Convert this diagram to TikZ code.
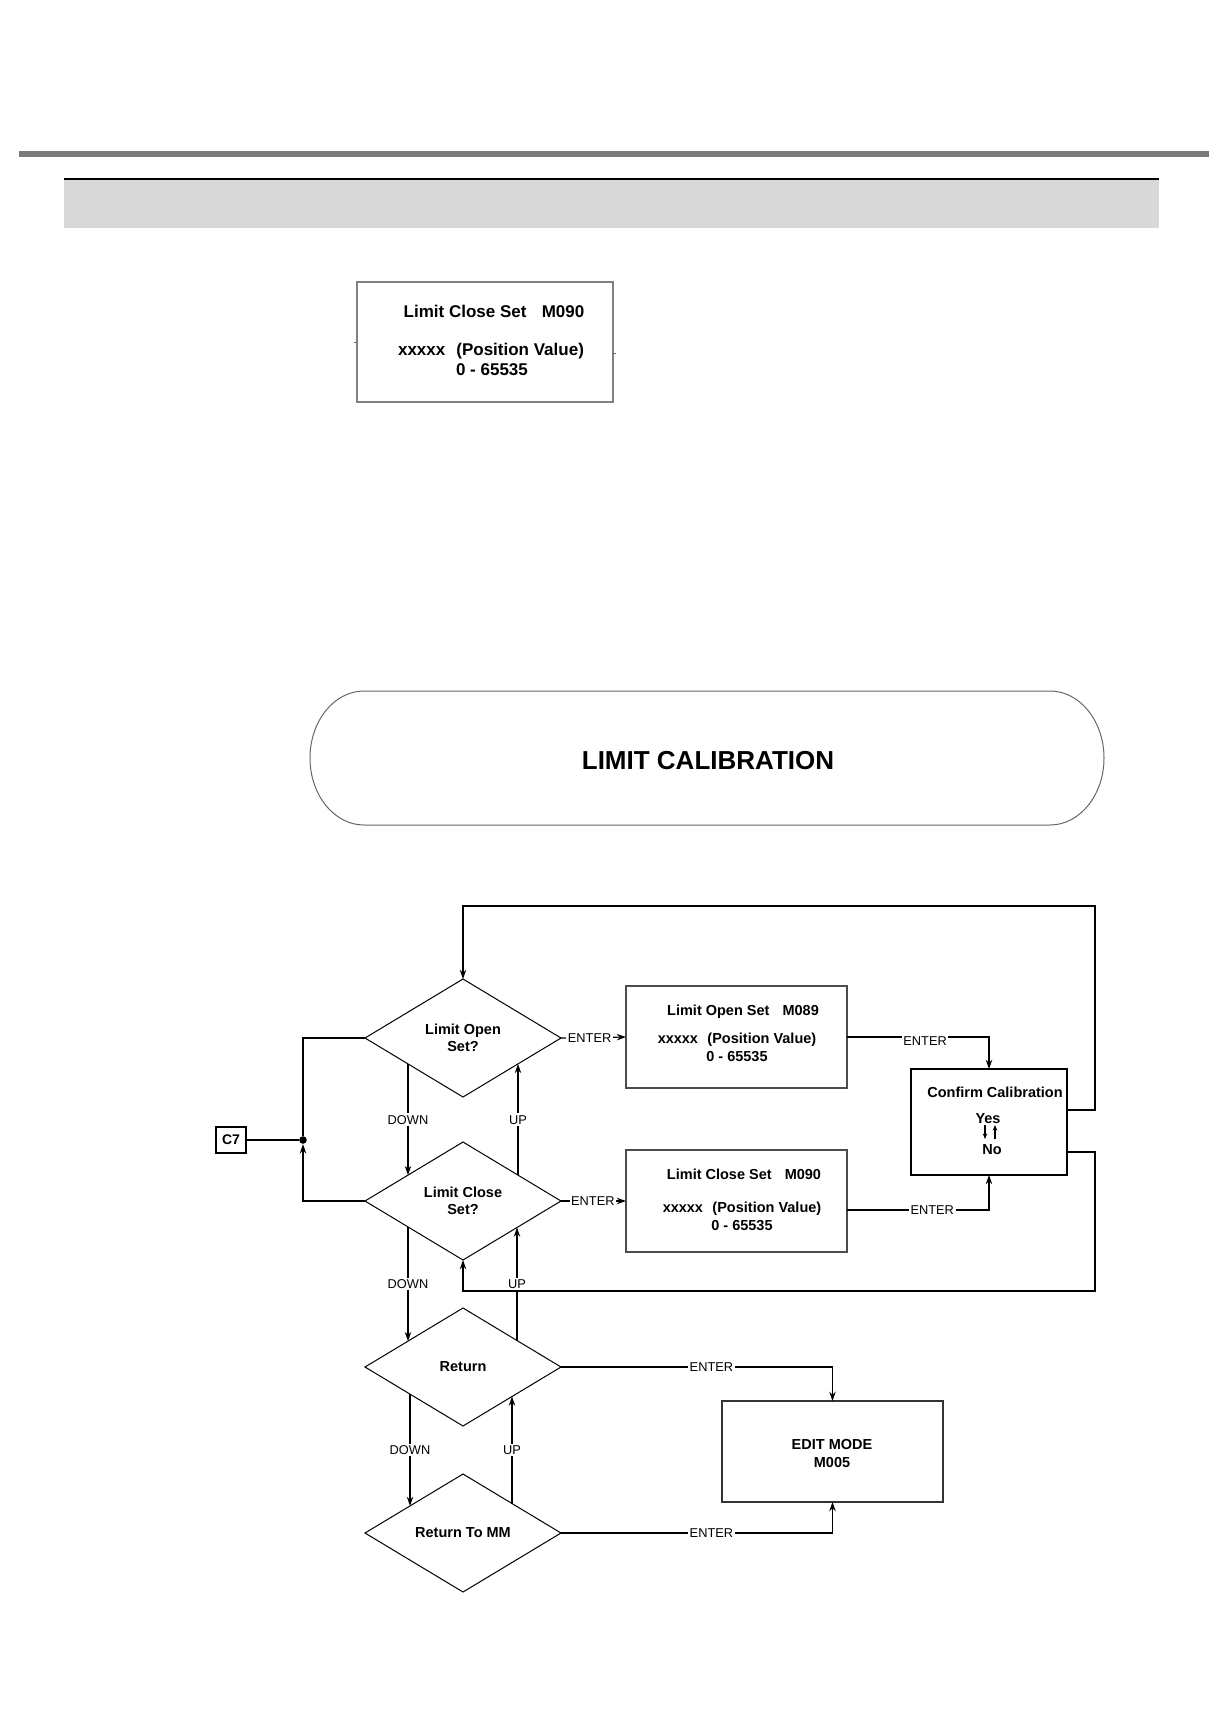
\documentclass[tikz,border=0pt]{standalone}
\usepackage{fontspec}
\setmainfont{Liberation Sans}
\usetikzlibrary{shapes.geometric,arrows.meta,calc}
\definecolor{rulegray}{RGB}{122,122,120}
\definecolor{barg}{RGB}{216,216,216}
\tikzset{
  conn/.style={line width=0.6pt, draw=black},
  arr/.style={conn,-{Stealth[length=4.6pt,width=3.2pt]}},
  smallarr/.style={line width=0.55pt,-{Stealth[length=2.8pt,width=2.3pt]}},
  lab/.style={font=\fontsize{6.4}{7.7}\selectfont, fill=white, inner sep=0.8pt, text height=4.6pt, text depth=0pt},
  bt/.style={font=\fontsize{7.25}{8.6}\selectfont\bfseries, inner sep=0pt, text height=5.2pt, text depth=0pt},
  btm/.style={font=\fontsize{7.25}{9}\selectfont\bfseries, inner sep=0pt, align=center},
  bigt/.style={font=\fontsize{8.5}{10.2}\selectfont\bfseries, inner sep=0pt, text height=6.1pt, text depth=0pt},
  dia/.style={diamond, draw=black, line width=0.5pt, minimum width=98pt, minimum height=59pt,
              inner sep=0pt, outer sep=0pt, align=center, font=\fontsize{7.25}{8.6}\selectfont\bfseries},
  boxn/.style={rectangle, draw=black!70, line width=0.6pt, inner sep=0pt, outer sep=0pt},
}
\begin{document}
\begin{tikzpicture}[x=0.5pt,y=-0.5pt]
\useasboundingbox (0,0) rectangle (1227,1720);
% header
\fill[rulegray] (19,151) rectangle (1209,157);
\fill[barg] (64,179) rectangle (1159,228);
\draw[line width=0.6pt] (64,179) -- (1159,179);
% top box
\node[boxn, draw=black!50, line width=0.8pt, minimum width=128pt, minimum height=60pt] (tb) at (485,342) {};
\draw[black!60, line width=0.5pt] (tb.west) -- ++(-3,0);
\draw[black!60, line width=0.5pt] ([yshift=-5.5pt]tb.east) -- ++(3,0);
\node[bigt] (tb1) at (494,311) {Limit Close Set\hspace{0.9em}M090};
\node[bigt] (tb2) at (491,349) {xxxxx\hspace{0.65em}(Position Value)};
\node[bigt] (tb3) at (492,369) {0 - 65535};
% stadium
\draw[black!60, line width=0.5pt] (364,691) -- (1050,691)
  arc[start angle=90, end angle=-90, x radius=27pt, y radius=33.5pt]
  -- (364,825)
  arc[start angle=270, end angle=90, x radius=27pt, y radius=33.5pt] -- cycle;
\node[font=\fontsize{13}{15}\selectfont\bfseries, inner sep=0pt, text height=9.3pt, text depth=0pt] (title) at (708,760) {LIMIT CALIBRATION};
% flowchart nodes
\node[dia] (d1) at (463,1038) {Limit Open\\Set?};
\node[dia] (d2) at (463,1201) {Limit Close\\Set?};
\node[dia] (ret) at (463,1367) {Return};
\node[dia] (rtm) at (463,1533) {Return To MM};
\node[boxn, minimum width=110.5pt, minimum height=51pt] (lo) at (736.5,1037) {};
\node[boxn, minimum width=110.5pt, minimum height=51pt] (lc) at (736.5,1201) {};
\node[boxn, draw=black, minimum width=78pt, minimum height=53pt] (cf) at (989,1122) {};
\node[boxn, draw=black!80, minimum width=110.5pt, minimum height=50.5pt] (ed) at (832.5,1451.5) {};
\node[boxn, draw=black, minimum width=15pt, minimum height=13pt, font=\fontsize{7}{8}\selectfont\bfseries] (c7) at (231,1140) {C7};
\node[circle, fill=black, minimum size=3.8pt, inner sep=0pt] (dot) at (303,1140) {};
% box texts
\node[bt] (lo1) at (743,1010) {Limit Open Set\hspace{0.9em}M089};
\node[bt] (lo2) at (737,1038) {xxxxx\hspace{0.65em}(Position Value)};
\node[bt] (lo3) at (737,1056) {0 - 65535};
\node[bt] (lc1) at (744,1174) {Limit Close Set\hspace{0.9em}M090};
\node[bt] (lc2) at (742,1207) {xxxxx\hspace{0.65em}(Position Value)};
\node[bt] (lc3) at (742,1225) {0 - 65535};
\node[bt] (cf1) at (995,1092) {Confirm Calibration};
\node[bt] (cf2) at (988,1118) {Yes};
\node[bt] (cf3) at (992,1149) {No};
\draw[smallarr] (985,1125) -- (985,1139);
\draw[smallarr] (995,1139) -- (995,1125);
\node[btm] (ed1) at (832,1453) {EDIT MODE\\M005};
% connectors
\coordinate (rt) at (1095,906);
\coordinate (rb) at (1095,1291);
\draw[arr] (d1.east) -- (lo.west) node[lab,pos=0.44]{ENTER};
\draw[arr] (d2.east) -- (lc.west) node[lab,pos=0.49]{ENTER};
\draw[arr] (lo.east) -| node[lab,pos=0.275,yshift=-2pt]{ENTER} (cf.north);
\draw[arr] ([yshift=-4.5pt]lc.east) -| node[lab,pos=0.3]{ENTER} (cf.south);
\draw[arr] (ret.east) -| node[lab,pos=0.277]{ENTER} (ed.north);
\draw[arr] (rtm.east) -| node[lab,pos=0.277]{ENTER} (ed.south);
\draw[arr] ([yshift=6pt]cf.east) -| (rt) -| (d1.north);
\draw[arr] ([yshift=-15pt]cf.east) -| (rb) -| (d2.south);
\draw[arr] ($(d1.south west)+(-6,-3.6)$) -- ($(d2.north west)+(-6,3.6)$) node[lab,midway]{DOWN};
\draw[arr] ($(d2.north east)+(6,3.6)$) -- ($(d1.south east)+(6,-3.6)$) node[lab,midway]{UP};
\draw[arr] ($(d2.south west)+(-6,-3.6)$) -- ($(ret.north west)+(-6,3.6)$) node[lab,midway]{DOWN};
\draw[arr] ($(ret.north east)+(5,3)$) -- ($(d2.south east)+(5,-3)$) node[lab,midway]{UP};
\draw[arr] ($(ret.south west)+(-4,-2.4)$) -- ($(rtm.north west)+(-4,2.4)$) node[lab,midway]{DOWN};
\draw[arr] (rtm.north east) -- (ret.south east) node[lab,midway]{UP};
\draw[conn] (d1.west) -| (dot);
\draw[arr] (d2.west) -| (dot);
\draw[conn] (c7) -- (dot);
\end{tikzpicture}
\end{document}
